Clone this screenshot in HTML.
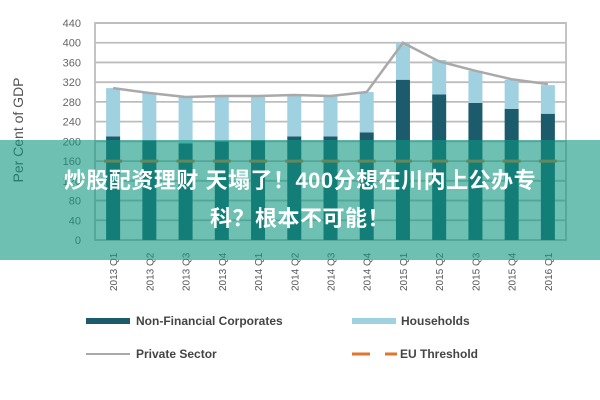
<!DOCTYPE html>
<html><head><meta charset="utf-8"><style>
body{margin:0;width:600px;height:400px;overflow:hidden;background:#fff;font-family:"Liberation Sans","Noto Sans CJK SC",sans-serif}
#banner{position:absolute;left:0;top:140px;width:600px;height:120px;background:rgba(13,150,126,0.6);color:#fff;font-weight:bold;font-size:22px;text-align:center;line-height:38px;padding-top:22px;box-sizing:border-box;letter-spacing:0.5px}
</style></head><body>
<svg id="chart" width="600" height="400" style="position:absolute;left:0;top:0" font-family="Liberation Sans, sans-serif"></svg>
<div id="banner">炒股配资理财 天塌了！400分想在川内上公办专<br>科？根本不可能！</div>
<script>
const categories=["2013 Q1","2013 Q2","2013 Q3","2013 Q4","2014 Q1","2014 Q2","2014 Q3","2014 Q4","2015 Q1","2015 Q2","2015 Q3","2015 Q4","2016 Q1"];
const corporates=[210,202,196,200,202,210,210,218,325,295,278,266,256];
const households=[98,96,94,92,90,84,82,82,75,70,65,59,58];
const privateSector=[308,298,290,292,292,294,292,300,400,362,343,326,316];
const euThreshold=[160,160,160,160,160,160,160,160,160,160,160,160,160];
const yTicks=[0,40,80,120,160,200,240,280,320,360,400,440];
const NS='http://www.w3.org/2000/svg';
const svg=document.getElementById('chart');
const L=95,R=566,T=23,B=240,maxV=440;
const y=v=>B-(v/maxV)*(B-T);
const step=(R-L)/categories.length;
const x=i=>L+step*(i+0.5);
function mk(t,a,p){const e=document.createElementNS(NS,t);for(const k in a)e.setAttribute(k,a[k]);(p||svg).appendChild(e);return e;}
let g;
yTicks.forEach(v=>{
 g=mk('line',{x1:L,x2:R,y1:y(v),y2:y(v),stroke:'#bdbdbd','stroke-width':1.8});
 
 
 g=mk('text',{x:81,y:y(v)+4,'text-anchor':'end','font-size':11,fill:'#666'});
 g.textContent=v;
 
 
});
g=mk('rect',{x:L,y:T,width:R-L,height:B-T,fill:'none',stroke:'#bdbdbd','stroke-width':1.8});


g=mk('text',{x:0,y:0,transform:'translate(23,130) rotate(-90)','text-anchor':'middle','font-size':14,fill:'#555'});
g.textContent='Per Cent of GDP';


const bw=14;
categories.forEach((c,i)=>{
 g=mk('rect',{x:x(i)-bw/2,y:y(corporates[i]),width:bw,height:B-y(corporates[i]),fill:'#1c5b6c'});
 
 
 g=mk('rect',{x:x(i)-bw/2,y:y(corporates[i]+households[i]),width:bw,height:y(corporates[i])-y(corporates[i]+households[i]),fill:'#9fd1e1'});
 
 
 g=mk('line',{x1:x(i)-9,x2:x(i)+9,y1:y(euThreshold[i]),y2:y(euThreshold[i]),stroke:'#e0762c','stroke-width':3});
 
 
 g=mk('text',{x:0,y:0,transform:`translate(${x(i)+4},291) rotate(-90)`,'font-size':10,fill:'#555'});
 g.textContent=c;
 
 
});
g=mk('polyline',{points:privateSector.map((v,i)=>x(i)+','+y(v)).join(' '),fill:'none',stroke:'#a9a9a9','stroke-width':2.5});


function leg(name,sw,tx,ty,label){
 const gg=mk('g',{});
 
 
 sw(gg);
 const t=mk('text',{x:tx,y:ty+4,'font-size':12,'font-weight':'bold',fill:'#444'},gg);
 t.textContent=label;
}
leg('legend-corporates',p=>mk('rect',{x:86,y:318,width:44,height:6,fill:'#1c5b6c'},p),136,321,'Non-Financial Corporates');
leg('legend-households',p=>mk('rect',{x:352,y:318,width:44,height:6,fill:'#9fd1e1'},p),401,321,'Households');
leg('legend-private-sector',p=>mk('line',{x1:86,x2:130,y1:354,y2:354,stroke:'#a9a9a9','stroke-width':2},p),136,354,'Private Sector');
leg('legend-eu-threshold',p=>{mk('line',{x1:352,x2:370,y1:354,y2:354,stroke:'#e0762c','stroke-width':3},p);mk('line',{x1:385,x2:397,y1:354,y2:354,stroke:'#e0762c','stroke-width':3},p);},400,354,'EU Threshold');
</script>
</body></html>
